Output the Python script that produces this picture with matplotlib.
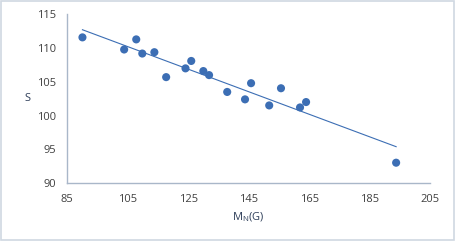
import numpy as np
import matplotlib
matplotlib.use("Agg")
import matplotlib.pyplot as plt

mn = [90.0, 103.8, 107.8, 109.8, 113.8, 117.7, 124.1, 126.0, 130.0, 131.9,
      137.9, 143.8, 145.8, 151.8, 155.7, 162.0, 164.0, 193.8]
s = [111.6, 109.8, 111.3, 109.2, 109.4, 105.7, 107.0, 108.1, 106.6, 106.0,
     103.5, 102.4, 104.8, 101.5, 104.05, 101.2, 102.0, 93.0]
xticks = [85, 105, 125, 145, 165, 185, 205]
yticks = [90, 95, 100, 105, 110, 115]

plt.rcParams['font.family'] = ['Open Sans', 'DejaVu Sans']
fig = plt.figure(figsize=(4.55, 2.41), dpi=100)
fig.patch.set_facecolor('white')
border = plt.Rectangle((0.002, 0.004), 0.995, 0.99, transform=fig.transFigure,
                       fill=False, edgecolor='#D0D8E2', linewidth=1.2)
fig.add_artist(border)

ax = fig.add_axes([0.148, 0.241, 0.797, 0.699])
blue = '#3C6EB4'
ax.scatter(mn, s, s=34, color=blue, zorder=3, edgecolors='none')
coef = np.polyfit(mn, s, 1)
xs = np.array([min(mn), max(mn)])
ax.plot(xs, np.polyval(coef, xs), color=blue, linewidth=0.8, zorder=2)

ax.set_xlim(85, 205)
ax.set_ylim(90, 115)
ax.set_xticks(xticks)
ax.set_yticks(yticks)
for sp in ['top', 'right']:
    ax.spines[sp].set_visible(False)
for sp in ['left', 'bottom']:
    ax.spines[sp].set_color('#A9B7C9')
    ax.spines[sp].set_linewidth(1.0)
ax.tick_params(length=0, labelsize=8, labelcolor='#404040', pad=8)
ax.set_xlabel(r'M$_\mathregular{N}$(G)', fontsize=8, color='#2F3F5A', labelpad=4)
ax.set_ylabel('S', fontsize=8, color='#2F3F5A', rotation=0, labelpad=7, va='center')
fig.savefig('out.png', dpi=100, facecolor='white')
